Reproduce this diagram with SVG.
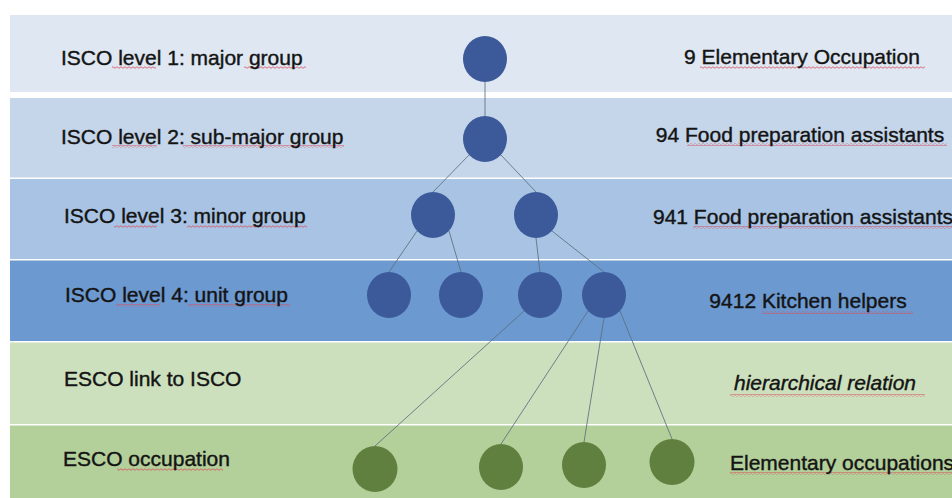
<svg xmlns="http://www.w3.org/2000/svg" width="952" height="498" viewBox="0 0 952 498">
  <defs>
    <pattern id="wave" width="4" height="3" patternUnits="userSpaceOnUse">
      <path d="M0 1.5 Q1 0 2 1.5 T4 1.5" fill="none" stroke="#d84c5c" stroke-width="0.8"/>
    </pattern>
  </defs>
  <style>
    .lbl { font-family: "Liberation Sans", Arial, sans-serif; font-size: 21px; fill: #141414; stroke: #141414; stroke-width: 0.4; }
    .rt { text-anchor: middle; }
    .it { font-style: italic; }
    .blue { fill: #3c5a9a; }
    .green { fill: #5f803e; }
    .edge { stroke: #5d6f80; stroke-width: 1; stroke-opacity: 0.85; fill: none; }
    .sq { fill: url(#wave); }
  </style>
  <rect x="0" y="0" width="952" height="498" fill="#ffffff"/>
  <g id="bands">
    <rect x="10" y="15" width="942" height="77" fill="#dee7f2"/>
    <rect x="10" y="98" width="942" height="79.5" fill="#c5d5ea"/>
    <rect x="10" y="179" width="942" height="80" fill="#a8c3e3"/>
    <rect x="10" y="260.5" width="942" height="80.5" fill="#6c99d0"/>
    <rect x="10" y="342.5" width="942" height="81.5" fill="#cde0bd"/>
    <rect x="10" y="425.5" width="942" height="72.5" fill="#b3cf9a"/>
  </g>
  <g id="squiggles">
    <rect class="sq" x="112" y="66" width="44" height="3"/>
    <rect class="sq" x="244" y="66" width="62" height="3"/>
    <rect class="sq" x="112" y="145" width="45" height="3"/>
    <rect class="sq" x="183" y="145" width="161" height="3"/>
    <rect class="sq" x="114" y="225" width="43" height="3"/>
    <rect class="sq" x="187" y="225" width="120" height="3"/>
    <rect class="sq" x="116" y="304" width="44" height="3"/>
    <rect class="sq" x="188" y="304" width="102" height="3"/>
    <rect class="sq" x="117" y="468" width="106" height="3"/>
    <rect class="sq" x="700" y="66" width="225" height="3"/>
    <rect class="sq" x="687" y="143" width="260" height="3"/>
    <rect class="sq" x="693" y="226" width="259" height="3"/>
    <rect class="sq" x="762" y="311" width="151" height="3"/>
    <rect class="sq" x="730" y="394" width="195" height="3"/>
    <rect class="sq" x="730" y="472" width="222" height="3"/>
  </g>
  <g id="labels">
    <text class="lbl" x="61" y="64.5">ISCO level 1: major group</text>
    <text class="lbl" x="61" y="143.5">ISCO level 2: sub-major group</text>
    <text class="lbl" x="64" y="223">ISCO level 3: minor group</text>
    <text class="lbl" x="65" y="302">ISCO level 4: unit group</text>
    <text class="lbl" x="64" y="386">ESCO link to ISCO</text>
    <text class="lbl" x="63" y="466">ESCO occupation</text>
    <text class="lbl rt" x="802" y="63.5">9 Elementary Occupation</text>
    <text class="lbl rt" x="800" y="141.5">94 Food preparation assistants</text>
    <text class="lbl" x="653" y="224">941 Food preparation assistants</text>
    <text class="lbl rt" x="808" y="308">9412 Kitchen helpers</text>
    <text class="lbl rt it" x="825" y="390">hierarchical relation</text>
    <text class="lbl" x="730" y="470">Elementary occupations</text>
  </g>
  <g id="connectors">
    <line class="edge" x1="485" y1="82" x2="485" y2="116"/>
    <line class="edge" x1="469" y1="155" x2="433" y2="192"/>
    <line class="edge" x1="501" y1="155" x2="536" y2="192"/>
    <line class="edge" x1="417" y1="231" x2="389" y2="272"/>
    <line class="edge" x1="449" y1="231" x2="461" y2="272"/>
    <line class="edge" x1="536" y1="238" x2="540" y2="272"/>
    <line class="edge" x1="552" y1="231" x2="604" y2="272"/>
    <line class="edge" x1="524" y1="311" x2="375" y2="446"/>
    <line class="edge" x1="588" y1="311" x2="501" y2="444"/>
    <line class="edge" x1="604" y1="318" x2="584" y2="442"/>
    <line class="edge" x1="620" y1="311" x2="672" y2="439"/>
  </g>
  <g id="node-l1"><ellipse class="blue" cx="485" cy="59" rx="22" ry="23"/></g>
  <g id="node-l2"><ellipse class="blue" cx="485" cy="139" rx="22" ry="23"/></g>
  <g id="node-l3a"><ellipse class="blue" cx="433" cy="215" rx="22" ry="23"/></g>
  <g id="node-l3b"><ellipse class="blue" cx="536" cy="215" rx="22" ry="23"/></g>
  <g id="node-l4a"><ellipse class="blue" cx="389" cy="295" rx="22" ry="23"/></g>
  <g id="node-l4b"><ellipse class="blue" cx="461" cy="295" rx="22" ry="23"/></g>
  <g id="node-l4c"><ellipse class="blue" cx="540" cy="295" rx="22" ry="23"/></g>
  <g id="node-l4d"><ellipse class="blue" cx="604" cy="295" rx="22" ry="23"/></g>
  <g id="node-e1"><ellipse class="green" cx="375" cy="469" rx="22.5" ry="23"/></g>
  <g id="node-e2"><ellipse class="green" cx="501" cy="467" rx="22" ry="23"/></g>
  <g id="node-e3"><ellipse class="green" cx="584" cy="465" rx="22" ry="23"/></g>
  <g id="node-e4"><ellipse class="green" cx="672" cy="462" rx="22.5" ry="23"/></g>
</svg>
